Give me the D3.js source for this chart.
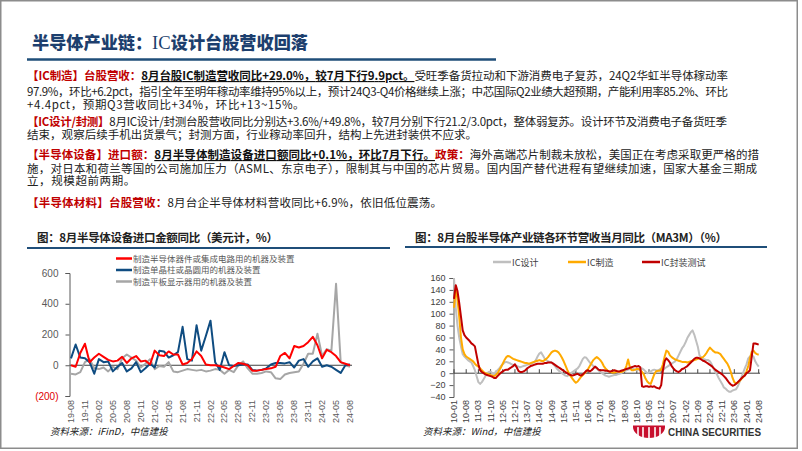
<!DOCTYPE html>
<html><head><meta charset="utf-8">
<script src="https://cdn.jsdelivr.net/npm/d3@7"></script>
<style>body{margin:0;background:#fff}svg{display:block}</style>
</head><body><svg id="c" width="802" height="451"></svg>
<script>
// ---------------- DATA ----------------
// Left chart: 19-08 .. 24-08 monthly, YoY % (USD)
const leftTickLabels = ["19-08","19-11","20-02","20-05","20-08","20-11","21-02","21-05","21-08","21-11","22-02","22-05","22-08","22-11","23-02","23-05","23-08","23-11","24-02","24-05","24-08"];
const leftSeriesNames = ["制造半导体器件或集成电路用的机器及装置","制造单晶柱或晶圆用的机器及装置","制造平板显示器用的机器及装置"];
const semiDevice = [0,-10,80,140,20,50,75,55,35,25, 30,55,15,45,60,25,30,5,95,65, 60,90,70,70,5,15,40,90,60,5, 0,0,-5,-15,-25,-5,15,10,0,-35, -35,-30,-25,-20,-10,60,80,45,125,115, 125,150,185,130,45,100,85,60,20,10,0];
const waferMach = [45,135,50,45,20,-55,40,20,25,-40, -10,15,-40,-20,20,-45,-20,10,-15,95, 90,50,65,85,250,40,30,260,95,190, 290,20,-30,85,0,-5,0,5,5,-30, -35,-30,-20,5,15,15,12,20,-15,30, 40,-10,25,45,-10,0,-10,-30,-50,0,5];
const panelMach = [-55,-60,-45,20,40,-20,-25,-15,-40,-10, -25,45,70,50,30,-15,10,40,-25,-5, -10,20,-40,-45,-35,-25,-30,-35,-30,-40, -35,-25,-30,-55,-30,-45,0,25,-20,-55, -55,-50,-40,-45,-85,-90,-60,-50,-45,-40, 10,75,75,205,60,105,95,530,20,0,-10];
const leftYTicks = [600,400,200,0,-200];

// Right chart: 10-01 .. 24-08 monthly, YoY % (MA3M)
const rightTickLabels = ["10-01","10-08","11-03","11-10","12-05","12-12","13-07","14-02","14-09","15-04","15-11","16-06","17-01","17-08","18-03","18-10","19-05","19-12","20-07","21-02","21-09","22-04","22-11","23-06","24-01","24-08"];
const rightSeriesNames = ["IC设计","IC制造","IC封装测试"];
const icDesign = [
 160,110,80,60,45,32,28,25,22,20,18,12,
 5,-5,-15,-18,-15,-10,-5,0,2,3,0,-3,
 3,5,8,12,15,18,19,18,17,15,14,13,
 12,11,10,11,12,13,14,15,16,17,18,22,
 28,33,35,30,25,22,20,19,18,15,12,8,
 5,2,0,-2,-4,-5,-3,-1,2,4,6,8,
 12,18,24,27,26,22,18,15,12,10,8,5,
 2,0,-2,-4,-5,-6,-5,-4,-3,-3,-2,-1,
 0,2,4,5,6,7,8,7,6,5,6,7,
 8,6,3,0,1,3,5,6,5,4,6,8,
 5,8,10,12,14,16,18,20,24,30,36,42,
 46,52,59,64,69,72,65,55,45,30,26,24,
 23,22,22,20,15,8,3,-2,-8,-13,-18,-24,
 -26,-29,-31,-31,-29,-28,-27,-22,-15,-8,0,8,
 15,25,28,30,28,20,15,11];
const icMfg = [
 110,140,125,95,60,40,32,28,26,24,22,20,
 16,13,11,8,5,2,0,-1,-2,-3,-4,-5,
 -3,0,5,10,16,22,27,29,28,26,24,23,
 22,21,20,19,18,17,17,16,17,18,19,20,
 21,22,21,20,22,24,27,31,35,37,38,37,
 35,31,26,20,13,6,0,-5,-9,-13,-16,-14,
 -10,-6,-3,0,3,7,12,17,22,25,27,25,
 22,18,12,8,5,3,2,1,1,2,3,2,
 2,3,5,12,23,10,5,5,6,7,7,5,
 2,-2,-9,-14,-17,-18,-10,-2,3,4,4,6,
 15,28,38,36,30,27,25,23,22,21,20,19,
 19,19,18,19,20,21,22,23,24,25,26,27,
 30,34,39,43,40,37,35,35,34,32,28,24,
 20,16,10,2,-8,-15,-17,-16,-13,-10,-7,-3,
 3,12,25,36,38,34,32,31];
const icPkg = [
 125,148,138,118,95,72,64,60,57,54,50,48,
 45,30,15,5,2,0,-2,-3,-4,-5,-6,-8,
 -8,-5,-2,1,3,5,6,6,8,10,12,15,
 10,4,2,2,3,5,8,10,12,13,14,15,
 16,16,16,16,17,17,18,18,18,16,14,12,
 10,8,6,4,2,0,-2,-3,-4,-3,-2,-1,
 -3,-4,-2,1,4,5,3,5,8,11,9,6,
 5,5,5,4,4,3,3,4,5,4,3,3,
 4,5,6,7,8,9,10,11,12,11,12,10,
 -22,-23,-22,-22,-23,-22,-23,-22,-24,-25,-26,-20,
 5,20,25,22,18,12,8,5,3,2,4,7,
 8,10,12,15,18,21,24,26,26,25,23,21,
 20,18,16,14,12,9,6,4,2,0,-2,-5,
 -8,-12,-16,-19,-21,-20,-18,-15,-12,-9,-6,-4,
 0,2,5,28,50,50,49,48];
const rightYTicks = [160,140,120,100,80,60,40,20,0,-20,-40];

// month categories
function months(y0,m0,y1,m1){const r=[];let y=y0,m=m0;while(y<y1||(y===y1&&m<=m1)){r.push(String(y%100).padStart(2,"0")+"-"+String(m).padStart(2,"0"));m++;if(m>12){m=1;y++;}}return r;}
const leftMonths = months(2019,8,2024,8);
const rightMonths = months(2010,1,2024,8);

// ---------------- DRAW ----------------
const svg = d3.select("#c");
const CJK = "'Noto Sans CJK SC','Noto Sans',sans-serif";
svg.append("rect").attr("x",0.75).attr("y",0.75).attr("width",796.5).attr("height",447.5)
  .attr("fill","#fff").attr("stroke","#8c8c8c").attr("stroke-width",1.5);

// title
const tt = svg.append("text").attr("x",32).attr("y",48.5).attr("font-family",CJK).attr("font-size",17.5)
  .attr("font-weight",900).attr("fill","#1d3f6e").attr("textLength",276).attr("lengthAdjust","spacingAndGlyphs");
tt.append("tspan").text("半导体产业链：");
tt.append("tspan").attr("font-family","'Liberation Serif',serif").attr("font-weight",400).attr("font-size",19).text("IC");
tt.append("tspan").text("设计台股营收回落");
svg.append("line").attr("x1",27).attr("x2",496).attr("y1",59.5).attr("y2",59.5).attr("stroke","#1f4e79").attr("stroke-width",2.5);

// body text
const paras = [
 {y:80, len:701, segs:[["【IC制造】台股营收：","r"],["8月台股IC制造营收同比+29.0%，较7月下行9.9pct。","b"],["受旺季备货拉动和下游消费电子复苏，24Q2华虹半导体稼动率","n"]]},
 {y:95.5, len:701, segs:[["97.9%，环比+6.2pct，指引全年至明年稼动率维持95%以上，预计24Q3-Q4价格继续上涨；中芯国际Q2业绩大超预期，产能利用率85.2%、环比","n"]]},
 {y:108.5, len:0, segs:[["+4.4pct，预期Q3营收同比+34%，环比+13~15%。","n"]]},
 {y:126, len:700, segs:[["【IC设计/封测】","r"],["8月IC设计/封测台股营收同比分别达+3.6%/+49.8%，较7月分别下行21.2/3.0pct，整体弱复苏。设计环节及消费电子备货旺季","n"]]},
 {y:138.5, len:450, segs:[["结束，观察后续手机出货景气；封测方面，行业稼动率回升，结构上先进封装供不应求。","n"]]},
 {y:159, len:732, segs:[["【半导体设备】进口额：","r"],["8月半导体制造设备进口额同比+0.1%，环比7月下行。","b"],["政策：","r"],["海外高端芯片制裁未放松，美国正在考虑采取更严格的措","n"]]},
 {y:172.5, len:730, segs:[["施，对日本和荷兰等国的公司施加压力（ASML、东京电子），限制其与中国的芯片贸易。国内国产替代进程有望继续加速，国家大基金三期成","n"]]},
 {y:185, len:0, segs:[["立，规模超前两期。","n"]]},
 {y:207, len:415, segs:[["【半导体材料】台股营收：","r"],["8月台企半导体材料营收同比+6.9%，依旧低位震荡。","n"]]}
];
paras.forEach(p=>{
  const t = svg.append("text").attr("x",27).attr("y",p.y).attr("font-family",CJK).attr("font-size",11.5).attr("fill","#222");
  if(p.len>0) t.attr("textLength",p.len).attr("lengthAdjust","spacing");
  else t.attr("letter-spacing",0.6);
  p.segs.forEach(s=>{
    const ts = t.append("tspan").text(s[0]);
    if(s[1]==="r"){ts.attr("fill","#c00000").attr("font-weight",700);}
    if(s[1]==="b"){ts.attr("font-weight",700).attr("fill","#111").style("text-decoration","underline");}
  });
});

// ---------- Left chart ----------
svg.append("text").attr("x",37).attr("y",242).attr("font-family",CJK).attr("font-size",11.5).attr("font-weight",700)
  .attr("fill","#222").attr("textLength",241).attr("lengthAdjust","spacing").text("图：8月半导体设备进口金额同比（美元计，%）");
svg.append("line").attr("x1",27).attr("x2",390).attr("y1",248).attr("y2",248).attr("stroke","#1f4e79").attr("stroke-width",2);

const xL = d3.scalePoint().domain(leftMonths).range([71,350]);
const yL = d3.scaleLinear().domain([-200,600]).range([396,273]);
const gLy = svg.append("g").attr("transform","translate(69.5,0)")
  .call(d3.axisLeft(yL).tickValues(leftYTicks).tickSize(4).tickFormat(d=>d<0?"("+(-d)+")":d));
gLy.select(".domain").attr("stroke","#595959");
gLy.selectAll(".tick line").attr("stroke","#595959");
gLy.selectAll(".tick text").attr("font-family","'Liberation Sans',Arial,sans-serif").attr("font-size",10)
  .attr("fill",d=>d<0?"#e00000":"#595959").attr("dx",-4);
svg.append("line").attr("x1",69.5).attr("x2",352).attr("y1",yL(0)).attr("y2",yL(0)).attr("stroke","#404040").attr("stroke-width",1);
svg.append("g").selectAll("text").data(leftTickLabels).join("text")
  .attr("transform",d=>`translate(${xL(d)+3},400) rotate(-90)`).attr("text-anchor","end")
  .attr("font-family","'Liberation Sans',Arial,sans-serif").attr("font-size",9).attr("fill","#595959").text(d=>d);

const lineL = d3.line().x((d,i)=>xL(leftMonths[i])).y(d=>yL(d));
const leftSeries = [[panelMach,"#a6a6a6"],[waferMach,"#0f4c81"],[semiDevice,"#ff0000"]];
leftSeries.forEach(s=>svg.append("path").attr("d",lineL(s[0])).attr("fill","none").attr("stroke",s[1]).attr("stroke-width",2).attr("stroke-linejoin","round"));

const legL = [[leftSeriesNames[0],"#ff0000",258.5],[leftSeriesNames[1],"#0f4c81",270],[leftSeriesNames[2],"#a6a6a6",281.5]];
legL.forEach(l=>{
  svg.append("line").attr("x1",116).attr("x2",132).attr("y1",l[2]).attr("y2",l[2]).attr("stroke",l[1]).attr("stroke-width",2.5);
  svg.append("text").attr("x",133).attr("y",l[2]+3).attr("font-family",CJK).attr("font-size",8.5).attr("fill","#595959").text(l[0]);
});
svg.append("text").attr("x",50).attr("y",435).attr("font-family",CJK).attr("font-size",9.5).attr("font-style","italic")
  .attr("fill","#222").text("资料来源：iFinD，中信建投");

// ---------- Right chart ----------
svg.append("text").attr("x",415).attr("y",242).attr("font-family",CJK).attr("font-size",11.5).attr("font-weight",700)
  .attr("fill","#222").attr("textLength",312).attr("lengthAdjust","spacing").text("图：8月台股半导体产业链各环节营收当月同比（MA3M）（%）");
svg.append("line").attr("x1",405).attr("x2",767).attr("y1",247).attr("y2",247).attr("stroke","#1f4e79").attr("stroke-width",2);

const xR = d3.scalePoint().domain(rightMonths).range([454,758.7]);
const yR = d3.scaleLinear().domain([-40,160]).range([397,278]);
const gRy = svg.append("g").attr("transform","translate(453.5,0)")
  .call(d3.axisLeft(yR).tickValues(rightYTicks).tickSize(4));
gRy.select(".domain").attr("stroke","#595959");
gRy.selectAll(".tick line").attr("stroke","#595959");
gRy.selectAll(".tick text").attr("font-family","'Liberation Sans',Arial,sans-serif").attr("font-size",9).attr("fill","#404040").attr("dx",-1);
svg.append("line").attr("x1",453.5).attr("x2",760).attr("y1",yR(0)).attr("y2",yR(0)).attr("stroke","#404040").attr("stroke-width",1);
svg.append("g").selectAll("line").data(rightTickLabels).join("line")
  .attr("x1",d=>xR(d)).attr("x2",d=>xR(d)).attr("y1",yR(0)-4).attr("y2",yR(0)).attr("stroke","#404040");
svg.append("g").selectAll("text").data(rightTickLabels).join("text")
  .attr("transform",d=>`translate(${xR(d)+3},400) rotate(-90)`).attr("text-anchor","end")
  .attr("font-family","'Liberation Sans',Arial,sans-serif").attr("font-size",9).attr("fill","#404040").text(d=>d);

const lineR = d3.line().x((d,i)=>xR(rightMonths[i])).y(d=>yR(d));
const rightSeries = [[icDesign,"#bfbfbf"],[icMfg,"#ffaa00"],[icPkg,"#c00000"]];
rightSeries.forEach(s=>svg.append("path").attr("d",lineR(s[0])).attr("fill","none").attr("stroke",s[1]).attr("stroke-width",2).attr("stroke-linejoin","round"));

const legR = [[rightSeriesNames[0],"#bfbfbf",493],[rightSeriesNames[1],"#ffaa00",568],[rightSeriesNames[2],"#c00000",642]];
legR.forEach(l=>{
  svg.append("line").attr("x1",l[2]).attr("x2",l[2]+18).attr("y1",262).attr("y2",262).attr("stroke",l[1]).attr("stroke-width",2.5);
  svg.append("text").attr("x",l[2]+19).attr("y",265.5).attr("font-family",CJK).attr("font-size",9).attr("fill","#404040").text(l[0]);
});
svg.append("text").attr("x",423).attr("y",435).attr("font-family",CJK).attr("font-size",9.5).attr("font-style","italic")
  .attr("fill","#222").text("资料来源：Wind，中信建投");

// logo
const lg = svg.append("g");
lg.append("path").attr("d","M633,427 L665,427 A16,11 0 0 1 633,427 Z").attr("fill","#c8102e");
[638,643,649,655,660].forEach(x=>lg.append("line").attr("x1",x).attr("x2",x).attr("y1",426).attr("y2",439).attr("stroke","#fff").attr("stroke-width",1.6));
lg.append("rect").attr("x",633).attr("y",425.5).attr("width",32).attr("height",1.6).attr("fill","#c8102e");
svg.append("text").attr("x",668).attr("y",436).attr("font-family","'Liberation Sans',Arial,sans-serif").attr("font-size",10.5)
  .attr("font-weight",700).attr("fill","#333").attr("textLength",93).attr("lengthAdjust","spacingAndGlyphs").text("CHINA SECURITIES");
</script></body></html>
